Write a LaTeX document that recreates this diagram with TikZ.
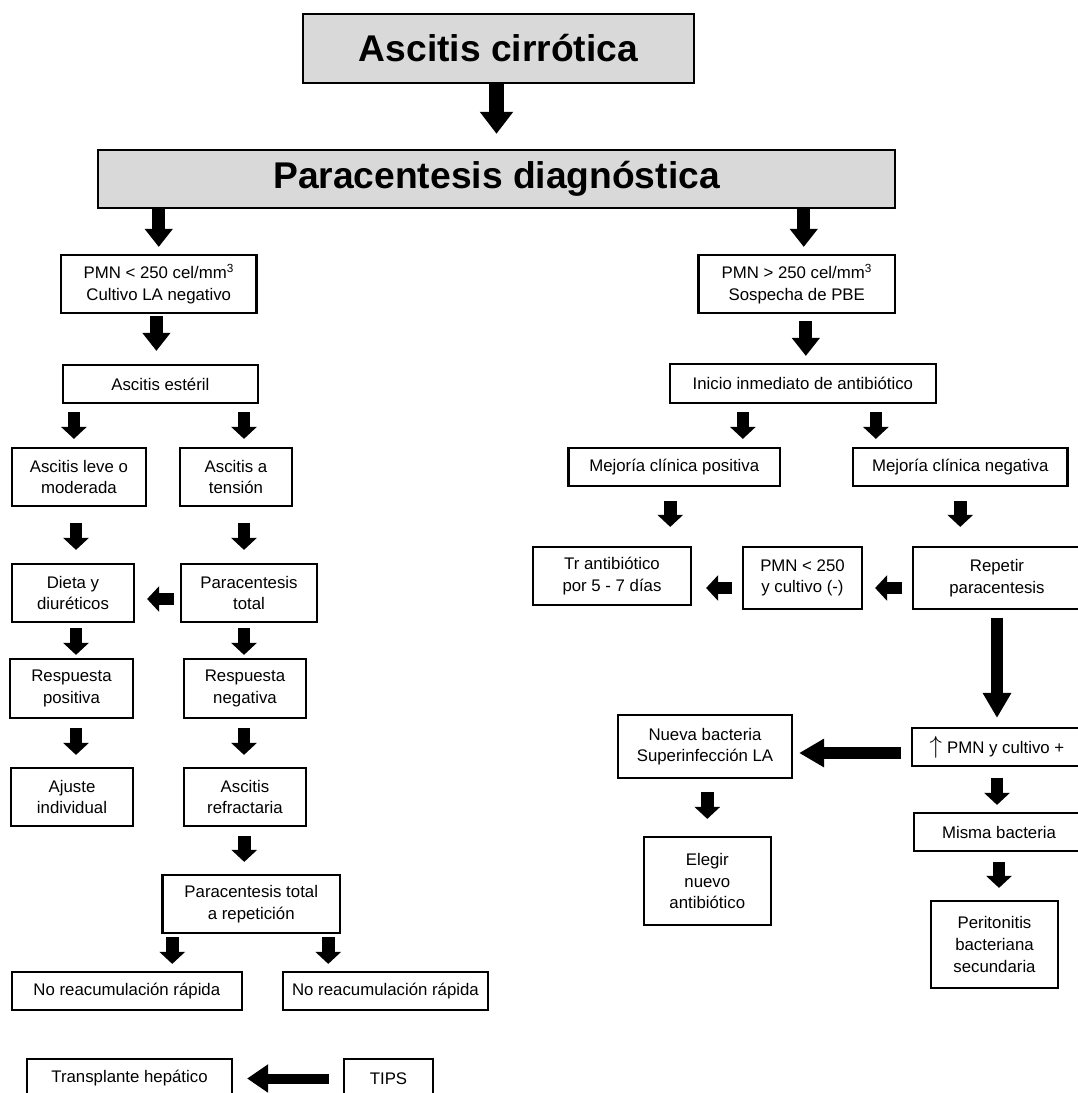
\documentclass[tikz,border=0pt]{standalone}
\usepackage{fontspec}
\setmainfont{Liberation Sans}
\usetikzlibrary{arrows.meta}

\tikzset{
    caja/.style={draw, line width=2.2pt, inner sep=0pt, align=center, font=\fontsize{16.8}{21.7}\selectfont},
    titulo/.style={draw, fill=gray!30, line width=2.4pt, inner sep=0pt, font=\fontsize{37.2}{44}\selectfont\bfseries},
    flecha/.style={line width=12.5pt, -{Triangle[length=12pt,width=25pt]}},
    flechamed/.style={line width=13pt, -{Triangle[length=18pt,width=27pt]}},
    flechagrande/.style={line width=14.5pt, -{Triangle[length=22pt,width=32pt]}},
    flechalarga/.style={line width=12pt, -{Triangle[length=25pt,width=27pt]}}
}

\begin{document}
\begin{tikzpicture}[x=1pt, y=-1pt]
        \useasboundingbox (0,0) rectangle (1078,1093);
        \clip (0,0) rectangle (1078,1093);

        %Titles
        \node[titulo, minimum width=391pt, minimum height=69pt] (cirrotica) at (498.5,48.5) {Ascitis cirrótica};
        \node[titulo, minimum width=797pt, minimum height=58pt] (diag) at (496.5,179) {Paracentesis diagnóstica};
        \node[caja, minimum width=195.5pt, minimum height=58pt] (pmnlo) at (158.75,284) {PMN < 250 cel/mm\textsuperscript{3}\\Cultivo LA negativo};
        \node[caja, minimum width=196.5pt, minimum height=58pt] (pmnhi) at (796.75,284) {PMN > 250 cel/mm\textsuperscript{3}\\Sospecha de PBE};

        %Ascitis esteril
        \node[caja, minimum width=195.3pt, minimum height=38pt] (esteril) at (160.4,384) {Ascitis estéril};
        \node[caja, minimum width=133.7pt, minimum height=58pt] (leve) at (78.9,477) {Ascitis leve o\\moderada};
        \node[caja, minimum width=112pt, minimum height=58pt] (tension) at (236,477) {Ascitis a\\tensión};
        \node[caja, minimum width=122pt, minimum height=58pt] (dieta) at (73,593) {Dieta y\\diuréticos};
        \node[caja, minimum width=136pt, minimum height=58pt] (ptotal) at (249,593) {Paracentesis\\total};
        \node[caja, minimum width=123pt, minimum height=59pt] (rpos) at (71.5,688.5) {Respuesta\\positiva};
        \node[caja, minimum width=122pt, minimum height=59pt] (rneg) at (245,688.5) {Respuesta\\negativa};
        \node[caja, minimum width=122pt, minimum height=58pt] (ajuste) at (72,797) {Ajuste\\individual};
        \node[caja, minimum width=122pt, minimum height=58pt] (refract) at (245,797) {Ascitis\\refractaria};
        \node[caja, minimum width=177.5pt, minimum height=58pt] (prep) at (251.25,904) {Paracentesis total\\a repetición};
        \node[caja, minimum width=229.7pt, minimum height=38pt] (noreacA) at (126.85,991) {No reacumulación rápida};
        \node[caja, minimum width=205pt, minimum height=38pt] (noreacB) at (385.5,991) {No reacumulación rápida};
        \node[caja, minimum width=205pt, minimum height=39pt] (trasp) at (129.5,1078.5) {Transplante hepático};
        \node[caja, minimum width=89pt, minimum height=39pt] (tips) at (388.5,1078.5) {TIPS};

        %PBE
        \node[caja, minimum width=266.3pt, minimum height=39pt] (inicio) at (802.85,383.5) {Inicio inmediato de antibiótico};
        \node[caja, minimum width=211.5pt, minimum height=38pt] (mpos) at (674.25,467) {Mejoría clínica positiva};
        \node[caja, minimum width=214.5pt, minimum height=38pt] (mneg) at (960.25,467) {Mejoría clínica negativa};
        \node[caja, minimum width=158pt, minimum height=58pt] (tratam) at (612,576) {Tr antibiótico\\por 5 - 7 días};
        \node[caja, minimum width=119pt, minimum height=62pt] (pmncult) at (802.5,578) {PMN < 250\\y cultivo (-)};
        \node[caja, minimum width=168pt, minimum height=62pt] (repetir) at (997,578) {Repetir\\paracentesis};
        \node[caja, minimum width=170pt, minimum height=38pt] (pmnup) at (997,747) {{\fontsize{23}{23}\selectfont$\uparrow$}\hspace{5pt}PMN y cultivo +};
        \node[caja, minimum width=174pt, minimum height=63pt] (nueva) at (705,746.5) {Nueva bacteria\\Superinfección LA};
        \node[caja, minimum width=127.4pt, minimum height=88pt] (elegir) at (707.3,881) {Elegir\\nuevo\\antibiótico};
        \node[caja, minimum width=170pt, minimum height=38pt] (misma) at (999,832) {Misma bacteria};
        \node[caja, minimum width=127pt, minimum height=87pt] (perit) at (994.5,944.5) {Peritonitis\\bacteriana\\secundaria};

        %Arrows top
        \draw[flechagrande, shorten >=15pt] (diag.north |- cirrotica.south) -- (diag.north);
        \draw[flechamed, shorten >=7pt] (pmnlo.north |- diag.south) -- (pmnlo.north);
        \draw[flechamed, shorten >=7pt] ([xshift=7pt]pmnhi.north |- diag.south) -- ([xshift=7pt]pmnhi.north);
        \draw[flechamed, shorten <=2pt, shorten >=13pt] ([xshift=-4pt]esteril.north |- pmnlo.south) -- ([xshift=-4pt]esteril.north);
        \draw[flechamed, shorten <=7pt, shorten >=7pt] ([xshift=3pt]inicio.north |- pmnhi.south) -- ([xshift=3pt]inicio.north);

        %Arrows left branch
        \draw[flecha, shorten <=8pt, shorten >=8pt] ([xshift=-5pt]leve.north |- esteril.south) -- ([xshift=-5pt]leve.north);
        \draw[flecha, shorten <=8pt, shorten >=8pt] ([xshift=8pt]tension.north |- esteril.south) -- ([xshift=8pt]tension.north);
        \draw[flecha, shorten <=16pt, shorten >=13pt] ([xshift=3pt]dieta.north |- leve.south) -- ([xshift=3pt]dieta.north);
        \draw[flecha, shorten <=16pt, shorten >=13pt] ([xshift=-5pt]ptotal.north |- tension.south) -- ([xshift=-5pt]ptotal.north);
        \draw[flecha, shorten <=6pt, shorten >=12pt] ([yshift=-6pt]ptotal.west) -- ([yshift=-6pt]ptotal.west -| dieta.east);
        \draw[flecha, shorten <=5pt, shorten >=3pt] ([xshift=4.5pt]rpos.north |- dieta.south) -- ([xshift=4.5pt]rpos.north);
        \draw[flecha, shorten <=5pt, shorten >=3pt] ([xshift=-1pt]rneg.north |- ptotal.south) -- ([xshift=-1pt]rneg.north);
        \draw[flecha, shorten <=9pt, shorten >=12pt] ([xshift=4pt]ajuste.north |- rpos.south) -- ([xshift=4pt]ajuste.north);
        \draw[flecha, shorten <=9pt, shorten >=12pt] ([xshift=-1pt]refract.north |- rneg.south) -- ([xshift=-1pt]refract.north);
        \draw[flecha, shorten <=9pt, shorten >=12pt] ([xshift=-7pt]prep.north |- refract.south) -- ([xshift=-7pt]prep.north);
        \draw[flecha, shorten <=3pt, shorten >=7pt] ([xshift=-79pt]prep.south) -- ([xshift=-79pt]prep.south |- noreacA.north);
        \draw[flecha, shorten <=3pt, shorten >=7pt] ([xshift=77pt]prep.south) -- ([xshift=77pt]prep.south |- noreacB.north);
        \draw[flechalarga, line width=10pt, -{Triangle[length=21pt,width=27pt]}, shorten <=14pt, shorten >=14pt] (tips.west) -- (tips.west -| trasp.east);

        %Arrows right branch
        \draw[flecha, shorten <=8pt, shorten >=8pt] ([xshift=-60pt]inicio.south) -- ([xshift=-60pt]inicio.south |- mpos.north);
        \draw[flecha, shorten <=8pt, shorten >=8pt] ([xshift=73pt]inicio.south) -- ([xshift=73pt]inicio.south |- mneg.north);
        \draw[flecha, shorten <=14pt, shorten >=19pt] ([xshift=-4pt]mpos.south) -- ([xshift=-4pt]mpos.south |- tratam.north);
        \draw[flecha, shorten <=14pt, shorten >=19pt] (mneg.south) -- (mneg.south |- repetir.north);
        \draw[flecha, shorten <=10pt, shorten >=14pt] ([yshift=-10pt]pmncult.west) -- ([yshift=-10pt]pmncult.west -| tratam.east);
        \draw[flecha, shorten <=10pt, shorten >=12pt] ([yshift=-10pt]repetir.west) -- ([yshift=-10pt]repetir.west -| pmncult.east);
        \draw[flechalarga, shorten <=8pt, shorten >=9pt] (repetir.south) -- (repetir.south |- pmnup.north);
        \draw[flechalarga, shorten <=10pt, shorten >=6pt] ([yshift=-6pt]pmnup.west) -- ([yshift=-6pt]pmnup.west -| nueva.east);
        \draw[flecha, shorten <=11pt, shorten >=7pt] (pmnup.south) -- (pmnup.south |- misma.north);
        \draw[flecha, shorten <=10pt, shorten >=12pt] (misma.south) -- (misma.south |- perit.north);
        \draw[flecha, shorten <=13pt, shorten >=17pt] (elegir.north |- nueva.south) -- (elegir.north);
\end{tikzpicture}
\end{document}
